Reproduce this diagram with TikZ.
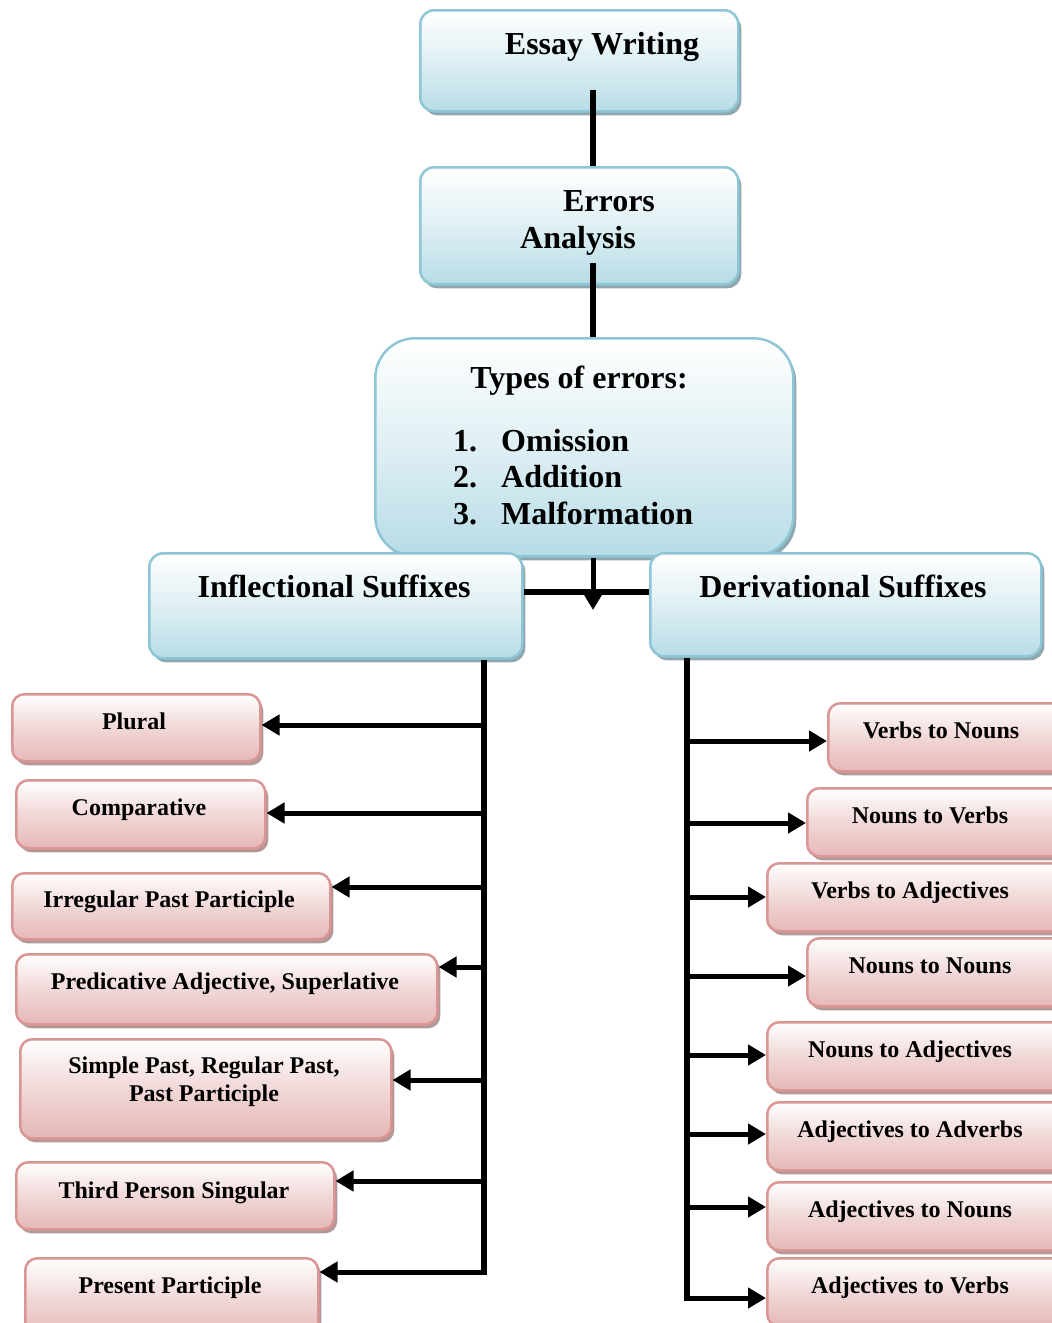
\documentclass[tikz,border=0pt]{standalone}
\usepackage{fontspec}
\setmainfont{Liberation Serif}
\usetikzlibrary{arrows.meta, shadows}

\definecolor{bline}{HTML}{8EC6D6}
\definecolor{bbot}{HTML}{B7DCE6}
\definecolor{bshad}{HTML}{8FA7AE}
\definecolor{pline}{HTML}{D99694}
\definecolor{pbot}{HTML}{E5B8B7}
\definecolor{pshad}{HTML}{B29896}

\begin{document}
\begin{tikzpicture}[x=1pt, y=-1pt,
    bluebox/.style={draw=bline, line width=2.5pt, rounded corners=14pt, top color=white, bottom color=bbot, middle color=bbot!45!white,
      drop shadow={shadow xshift=3pt, shadow yshift=-4pt, fill=bshad, opacity=1}, anchor=north west, inner sep=0},
    pinkbox/.style={draw=pline, line width=2.5pt, rounded corners=12pt, top color=white, bottom color=pbot, middle color=pbot!55!white,
      drop shadow={shadow xshift=3pt, shadow yshift=-4pt, fill=pshad, opacity=1}, anchor=north west, inner sep=0},
    big/.style={font=\fontsize{32}{37}\selectfont\bfseries, inner sep=0, anchor=base},
    small/.style={font=\fontsize{24}{28}\selectfont\bfseries, inner sep=0, anchor=base},
    conn/.style={line width=5.5pt},
    arr/.style={line width=5pt, -{Triangle[length=18pt,width=20pt]}}]
    \useasboundingbox (0,0) rectangle (1052,1323);
    \clip (0,0) rectangle (1052,1323);

    % Main boxes
    \node[bluebox, minimum width=318pt, minimum height=101pt] (essay) at (419,9) {};
    \node[bluebox, minimum width=318pt, minimum height=117pt] (errors) at (419,166) {};
    \node[bluebox, rounded corners=40pt, minimum width=418pt, minimum height=218pt] (types) at (374,337) {};
    \node[bluebox, minimum width=373pt, minimum height=105pt] (infl) at (148,552) {};
    \node[bluebox, minimum width=391pt, minimum height=103pt] (deriv) at (649,552) {};

    \node[big] (essay-t) at (602,54) {Essay Writing};
    \node[big] (errors-t) at (609,211) {Errors};
    \node[big] (analysis-t) at (578,248) {Analysis};
    \node[big] (types-t) at (579,388) {Types of errors:};
    \node[big, anchor=base west] (list-t) at (453,451) {\renewcommand{\arraystretch}{0.99}%
      \begin{tabular}[t]{@{}l@{\hspace{24pt}}l@{}}1. & Omission\\ 2. & Addition\\ 3. & Malformation\end{tabular}};
    \node[big] (infl-t) at (334,597) {Inflectional Suffixes};
    \node[big] (deriv-t) at (843,597) {Derivational Suffixes};

    % Spine
    \coordinate (spine) at (593,0);
    \coordinate (ltrunk) at (484,0);
    \coordinate (rtrunk) at (687,0);
    \draw[conn] (spine |- 0,90) -- (spine |- errors.north);
    \draw[conn] (spine |- 0,263) -- (spine |- types.north);
    \draw[arr] (spine |- types.south) -- (spine |- 0,610);
    \draw[conn] (infl.east |- 0,592) -- (deriv.west |- 0,592);

    % Inflectional side
    \foreach \n/\x/\y/\w/\h/\tx/\ty/\ay/\t in {
        plural/11/693/248/67/134/729/725/Plural,
        comp/15/779/249/68/139/815/813/Comparative,
        irreg/11/872/318/66/169/907/887/Irregular Past Participle,
        pred/15/953/421/70/225/989/967/{Predicative Adjective, Superlative},
        simple/19/1038/371/99/204/1075/1080/{},
        third/15/1161/318/67/174/1198/1181/Third Person Singular,
        present/24/1257/293/80/170/1293/1272/Present Participle}{
      \node[pinkbox, minimum width=\w pt, minimum height=\h pt] (\n) at (\x,\y) {};
      \node[small] (\n-t) at (\tx,\ty) {\t};
      \draw[arr] (ltrunk |- 0,\ay) -- (\n.east |- 0,\ay);
    }
    \node[small, anchor=center, align=center] (simple-l) at (204,1082) {Simple Past, Regular Past,\\Past Participle};
    \draw[conn] (infl.south -| ltrunk) -- (ltrunk |- 0,1274.5);

    % Derivational side
    \foreach \n/\x/\y/\tx/\ty/\ay/\t in {
        vn/827/702/941/738/741/Verbs to Nouns,
        nv/806/787/930/823/823/Nouns to Verbs,
        va/766/862/910/898/897/Verbs to Adjectives,
        nn/806/937/930/973/976/Nouns to Nouns,
        na/766/1021/910/1057/1055/Nouns to Adjectives,
        aadv/766/1101/910/1137/1134/Adjectives to Adverbs,
        an/766/1181/910/1217/1207/Adjectives to Nouns,
        av/766/1257/910/1293/1298/Adjectives to Verbs}{
      \node[pinkbox, minimum width=1070pt-\x pt, minimum height=68pt] (\n) at (\x,\y) {};
      \node[small] (\n-t) at (\tx,\ty) {\t};
      \draw[arr] (rtrunk |- 0,\ay) -- (\n.west |- 0,\ay);
    }
    \draw[conn] (deriv.south -| rtrunk) -- (rtrunk |- 0,1300.5);
\end{tikzpicture}
\end{document}
